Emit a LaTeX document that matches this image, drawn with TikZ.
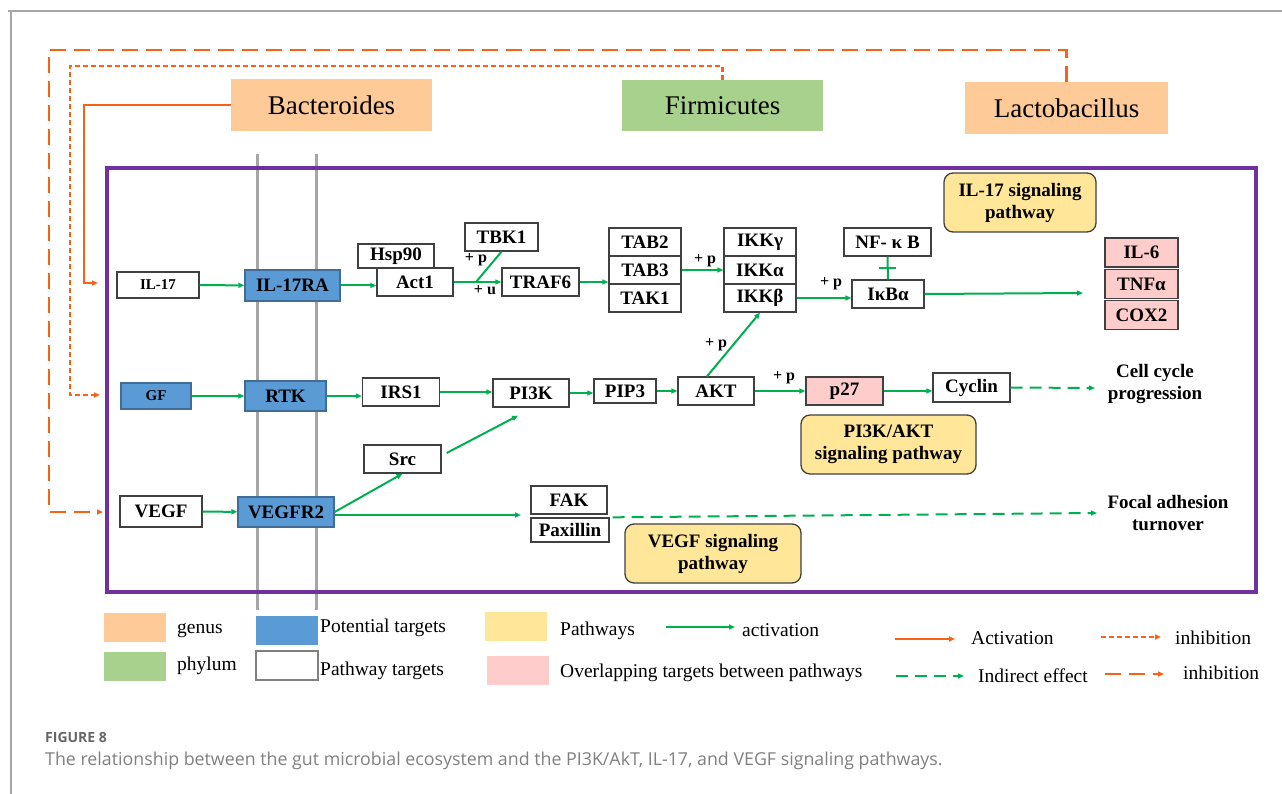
\documentclass[tikz,border=0pt]{standalone}
\usepackage{fontspec}
\setmainfont{Liberation Serif}
\newfontfamily\capfont{Open Sans}
\usetikzlibrary{arrows.meta,calc}
\definecolor{genuscol}{HTML}{FDCA98}
\definecolor{phylcol}{HTML}{A9D18E}
\definecolor{tgtblue}{HTML}{5B9BD5}
\definecolor{pwyellow}{HTML}{FFE699}
\definecolor{ovpink}{HTML}{FFCCCC}
\definecolor{actgreen}{HTML}{00B050}
\definecolor{bugorange}{HTML}{F86214}
\definecolor{framepurple}{HTML}{7030A0}

\begin{document}
\begin{tikzpicture}[x=1pt,y=-1pt,
			sz/.style 2 args={minimum width=#1,minimum height=#2},
			box/.style={draw=black!75,line width=1.3pt,fill=white,inner sep=0pt,font=\bfseries\fontsize{19}{21}\selectfont},
			sbox/.style={box,font=\bfseries\fontsize{15}{17}\selectfont},
			tgt/.style={fill=tgtblue,draw=tgtblue!70!black},
			ovl/.style={box,fill=ovpink},
			pwy/.style={box,fill=pwyellow,rounded corners=9pt,align=center,font=\bfseries\fontsize{19}{22}\selectfont},
			bug/.style={inner sep=0pt,font=\fontsize{27}{30}\selectfont},
			lbl/.style={inner sep=0pt,font=\bfseries\fontsize{16}{18}\selectfont},
			res/.style={inner sep=0pt,align=center,font=\bfseries\fontsize{19}{22}\selectfont},
			key/.style={inner sep=0pt,anchor=base west,font=\fontsize{19.5}{22}\selectfont},
			swatch/.style={inner sep=0pt,sz={62}{29}},
			tip/.style={-{Triangle[length=6pt,width=5pt]}},
			act/.style={tip,draw=actgreen,line width=2pt},
			ind/.style={act,dash pattern=on 12pt off 7pt},
			org/.style={tip,draw=bugorange,line width=2.2pt},
			inhs/.style={org,dash pattern=on 5pt off 3pt},
			inhl/.style={org,dash pattern=on 16pt off 8pt}
		]
		\useasboundingbox (0,0) rectangle (1282,794);
		\draw[black!35,line width=1.5pt] (8,11) -- (1282,11) (11,11) -- (11,794);
		\draw[black!35,line width=3pt] (257,154) -- (257,610) (316,154) -- (316,610);
		\draw[framepurple,line width=3.5pt] (107,168) rectangle (1256,592);

		\node[bug,sz={201}{52},fill=genuscol] (bact) at (331.5,105) {Bacteroides};
		\node[bug,sz={201}{51},fill=phylcol] (firm) at (722.5,105.5) {Firmicutes};
		\node[bug,sz={203}{52},fill=genuscol] (lacto) at (1066.5,108) {Lactobacillus};
		\coordinate (il17in) at (98,283);
		\coordinate (gfin) at (100,395);
		\coordinate (vegfin) at (103,512);
		\draw[org] (bact.west) -| (84,200) |- (il17in);
		\draw[inhs] (firm.north) |- (70,66) |- (gfin);
		\draw[inhl] (lacto.north) |- (49,50) |- (vegfin);

		\node[sbox,sz={82}{26}] (il17) at (158,285) {IL-17};
		\node[box,tgt,sz={95}{31}] (il17ra) at (292.5,285.5) {IL-17RA};
		\node[box,sz={76}{24}] (hsp) at (396,256) {Hsp90};
		\node[box,sz={76}{28}] (act1) at (415,282) {Act1};
		\node[box,sz={73}{28}] (tbk) at (501.5,237) {TBK1};
		\node[box,sz={77}{28}] (traf) at (540.5,282) {TRAF6};
		\node[box,sz={72}{28}] (tab2) at (645,242) {TAB2};
		\node[box,sz={72}{28}] (tab3) at (645,270) {TAB3};
		\node[box,sz={72}{28}] (tak) at (645,298) {TAK1};
		\node[box,sz={72}{28}] (ikkg) at (760,242) {IKKγ};
		\node[box,sz={72}{28}] (ikka) at (760,270) {IKKα};
		\node[box,sz={72}{28}] (ikkb) at (760,298) {IKKβ};
		\node[box,sz={87}{28}] (nfkb) at (887.5,242) {NF- κ B};
		\node[box,sz={72}{28}] (ikba) at (888,294) {IκBα};
		\node[ovl,sz={73}{29}] (il6) at (1141.5,252.5) {IL-6};
		\node[ovl,sz={73}{29}] (tnfa) at (1141.5,284) {TNFα};
		\node[ovl,sz={73}{29}] (cox) at (1141.5,315) {COX2};
		\node[pwy,sz={152}{59}] (il17pw) at (1020,202.5) {IL-17 signaling\\pathway};
		\coordinate (j1) at (476,282);
		\coordinate (il17out) at (1083,293);
		\draw[act] (il17) -- (il17ra);
		\draw[act] (il17ra.east) -- (il17ra.east -| act1.west);
		\draw[act] (act1) -- (traf);
		\draw[actgreen,line width=2pt] (tbk.south) -- (j1);
		\draw[act] (traf.east) -- (traf.east -| tab3.west);
		\draw[act] (tab3) -- (ikka);
		\draw[act] (ikkb) -- (ikkb -| ikba.west);
		\draw[actgreen,line width=2pt] (nfkb.south) -- (ikba.north);
		\draw[actgreen,line width=2pt] ($(nfkb.south)!.5!(ikba.north)$) ++(-8.5,0) -- ++(17,0);
		\draw[act] (ikba.east) -- (il17out);
		\node[lbl] (p1) at (476,260) {+ p};
		\node[lbl] (u1) at (485,290) {+ u};
		\node[lbl] (p2) at (705,261) {+ p};
		\node[lbl] (p3) at (831,284) {+ p};

		\node[sbox,tgt,sz={70}{26}] (gf) at (156,396) {GF};
		\node[box,tgt,sz={81}{30}] (rtk) at (285.5,396) {RTK};
		\node[box,sz={77}{28}] (irs) at (401,392) {IRS1};
		\node[box,sz={76}{28}] (pi3k) at (531,393) {PI3K};
		\node[box,sz={62}{24}] (pip3) at (625,391) {PIP3};
		\node[box,sz={76}{28}] (akt) at (716,391) {AKT};
		\node[ovl,sz={77}{28}] (p27) at (844.5,391) {p27};
		\node[box,sz={77}{29}] (cyc) at (971.5,387.5) {Cyclin};
		\node[res] (cell) at (1155,384) {Cell cycle\\progression};
		\node[pwy,sz={175}{59}] (pi3kpw) at (888.5,444.5) {PI3K/AKT\\signaling pathway};
		\coordinate (cellin) at (1095,388);
		\draw[act] (gf) -- (rtk);
		\draw[act] (rtk.east) -- (rtk.east -| irs.west);
		\draw[act] (irs) -- (irs -| pi3k.west);
		\draw[act] (pi3k) -- (pi3k -| pip3.west);
		\draw[act] (pip3) -- (akt);
		\draw[act] (akt) -- (p27);
		\draw[act] (p27.east) -- (p27.east -| cyc.west);
		\draw[ind] (cyc.east) -- (cellin);
		\draw[act] ($(akt.north)+(-9,0)$) -- (ikkb.south);
		\node[lbl] (p4) at (716,345) {+ p};
		\node[lbl] (p5) at (784,378) {+ p};

		\node[box,sz={82}{31}] (vegf) at (161,511.5) {VEGF};
		\node[box,tgt,sz={96}{30}] (vegfr) at (286,512) {VEGFR2};
		\node[box,sz={77}{28}] (src) at (402.5,459) {Src};
		\node[box,sz={76}{28}] (fak) at (569,500) {FAK};
		\node[box,sz={78}{24}] (pax) at (570,530) {Paxillin};
		\node[res] (focal) at (1168,513) {Focal adhesion\\turnover};
		\node[pwy,sz={176}{59}] (vegfpw) at (713,553.5) {VEGF signaling\\pathway};
		\coordinate (fpin) at (521,515);
		\coordinate (focalin) at (1097,513);
		\draw[act] (vegf) -- (vegfr);
		\draw[act] (vegfr.east) -- (src.south);
		\draw[act] (vegfr.east |- fpin) -- (fpin);
		\draw[act] ($(src.east)+(5,-6)$) -- ($(pi3k.south)+(-13,8)$);
		\draw[ind,shorten <=3pt] (pax.north east) -- (focalin);

		\node[swatch,fill=genuscol] (kgen) at (135,627.5) {};
		\node[key] (tgen) at (177,633) {genus};
		\node[swatch,fill=phylcol] (kphy) at (135,666) {};
		\node[key] (tphy) at (177,670) {phylum};
		\node[swatch,fill=tgtblue] (ktgt) at (287,630) {};
		\node[key] (ttgt) at (320,632) {Potential targets};
		\node[swatch,draw=black!50,line width=1.3pt,fill=white] (kpt) at (287,665.5) {};
		\node[key] (tpt) at (320,675) {Pathway targets};
		\node[swatch,fill=pwyellow] (kpw) at (515.5,626.5) {};
		\node[key] (tpw) at (560,635) {Pathways};
		\node[swatch,fill=ovpink] (kov) at (517.5,670.5) {};
		\node[key] (tov) at (560,677) {Overlapping targets between pathways};
		\coordinate (ka1) at (666,627);
		\coordinate (ka2) at (735,627);
		\draw[act] (ka1) -- (ka2);
		\node[key] (tact) at (742,636) {activation};
		\coordinate (ko1) at (895,639);
		\coordinate (ko2) at (955,639);
		\draw[org] (ko1) -- (ko2);
		\node[key] (torg) at (971,644) {Activation};
		\coordinate (ks1) at (1101,637);
		\coordinate (ks2) at (1161,637);
		\draw[inhs] (ks1) -- (ks2);
		\node[key] (tinhs) at (1175,644) {inhibition};
		\coordinate (ki1) at (896,676);
		\coordinate (ki2) at (964,676);
		\draw[ind] (ki1) -- (ki2);
		\node[key] (tind) at (978,682) {Indirect effect};
		\coordinate (kl1) at (1105,674);
		\coordinate (kl2) at (1164,674);
		\draw[inhl] (kl1) -- (kl2);
		\node[key] (tinhl) at (1183,679) {inhibition};

		\node[anchor=base west,inner sep=0pt,text=black!60,font=\capfont\bfseries\fontsize{14}{16}\selectfont] (fig) at (45,742) {FIGURE 8};
		\node[anchor=base west,inner sep=0pt,text=black!50,font=\capfont\fontsize{17.8}{20}\selectfont] (cap) at (45,765) {The relationship between the gut microbial ecosystem and the PI3K/AkT, IL-17, and VEGF signaling pathways.};
	\end{tikzpicture}
\end{document}
